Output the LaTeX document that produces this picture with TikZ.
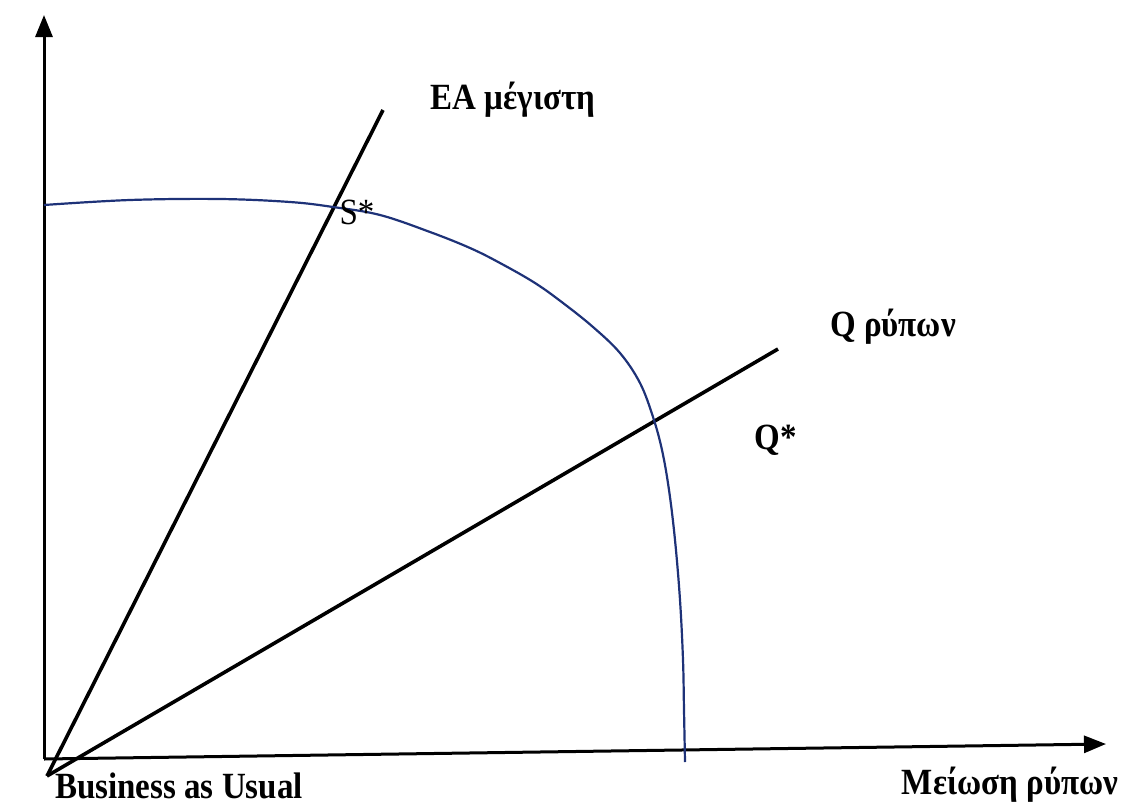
\documentclass[tikz,border=0pt]{standalone}
\usepackage{fontspec}
\setmainfont{Liberation Serif}
\usetikzlibrary{arrows.meta}
\definecolor{curveblue}{RGB}{30,50,120}
\begin{document}
\begin{tikzpicture}[x=1pt,y=-1pt,
  axis/.style={line width=3pt,-{Triangle[length=22pt,width=17pt]}},
  ray/.style={line width=3.6pt},
  lbl/.style={font=\fontsize{33}{36}\selectfont\bfseries,inner sep=0pt,yscale=1.12},
  lblr/.style={font=\fontsize{33}{36}\selectfont,inner sep=0pt,yscale=1.12}]
\useasboundingbox (0,0) rectangle (1145,811);
\coordinate (O) at (44,759);
\coordinate (Ytip) at (44,15);
\coordinate (Xtip) at (1106,744);
\coordinate (R) at (47,776);
\coordinate (Rs) at (383,110);
\coordinate (Rq) at (778,349);
\draw[axis] (O) -- (Ytip);
\draw[axis] (O) -- (Xtip);
\draw[ray] (R) -- (Rs);
\draw[ray] (R) -- (Rq);
\draw[curveblue,line width=2.2pt] plot[smooth,tension=0.6] coordinates {
 (44,205) (130,200) (220,199) (290,202) (333,207) (380,215) (430,232)
 (470,248) (500,263) (535,283) (563,303) (593,327) (620,353) (640,383)
 (653,417) (662,450) (669,490) (675,540) (680,600) (683,660) (684,710) (685,762)};
\node[lbl] (ea) at (513,100) {ΕΑ μέγιστη};
\node[lblr] (s) at (357,212) {S*};
\node[lbl] (qr) at (893,327) {Q ρύπων};
\node[lbl] (qs) at (776,440) {Q*};
\node[lbl] (bau) at (179,786) {Business as Usual};
\node[lbl] (mr) at (1010,785) {Μείωση ρύπων};
\end{tikzpicture}
\end{document}
